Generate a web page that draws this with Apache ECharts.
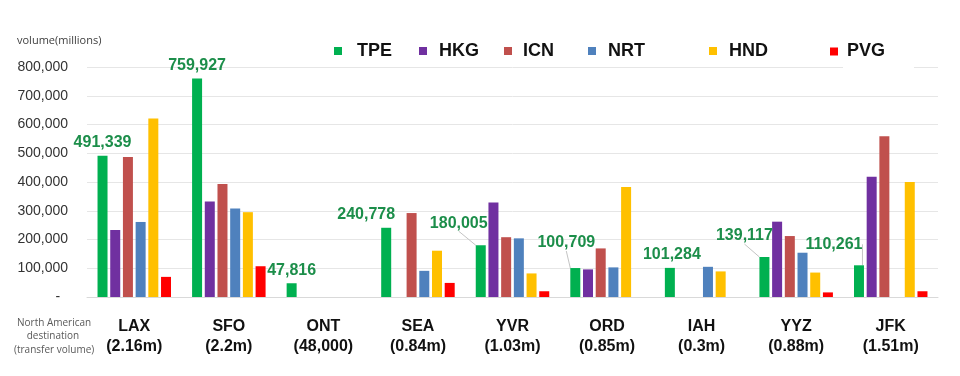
<!DOCTYPE html>
<html>
<head>
<meta charset="utf-8">
<script src="https://cdn.jsdelivr.net/npm/echarts@6/dist/echarts.min.js"></script>
<style>html,body{margin:0;padding:0;background:#fff}#c{width:960px;height:376px}</style>
</head>
<body>
<div id="c"></div>
<script>
// ---- data ----
const categories = ['LAX', 'SFO', 'ONT', 'SEA', 'YVR', 'ORD', 'IAH', 'YYZ', 'JFK'];
const transferVolumes = ['2.16m', '2.2m', '48,000', '0.84m', '1.03m', '0.85m', '0.3m', '0.88m', '1.51m'];
const seriesNames = ['TPE', 'HKG', 'ICN', 'NRT', 'HND', 'PVG'];
const TPE = [491339, 759927, 47816, 240778, 180005, 100709, 101284, 139117, 110261];
const HKG = [233000, 332000, null, null, 329000, 96000, null, 262000, 418000];
const ICN = [487000, 393000, null, 292000, 208000, 169000, null, 212000, 559000];
const NRT = [261000, 308000, null, 91000, 204000, 103000, 105000, 154000, null];
const HND = [621000, 295000, null, 161000, 82000, 383000, 89000, 85000, 400000];
const PVG = [70000, 107000, null, 49000, 20000, null, null, 16000, 20000];
const yTicks = [0, 100000, 200000, 300000, 400000, 500000, 600000, 700000, 800000];

// ---- styling / layout ----
const colors = {TPE: '#00B050', HKG: '#7030A0', ICN: '#C0504D', NRT: '#4F81BD', HND: '#FFC000', PVG: '#FF0000'};
const values = {TPE, HKG, ICN, NRT, HND, PVG};
const labelShift = [[0,0],[0,0],[0,0],[-20,0],[-22,-9],[-9,-12],[2,0],[-20,-8],[-25,-8]];
const leaderIdx = [4, 5, 7, 8];
const legendLeft = {TPE: 334, HKG: 419, ICN: 504, NRT: 588, HND: 709, PVG: 830};
const legendTextGap = {TPE: 10, HKG: 7, ICN: 6, NRT: 7, HND: 7, PVG: 4};
const FONT = '"Liberation Sans", Arial, sans-serif';
const NOTE_FONT = '10px "Open Sans", sans-serif';

const chart = echarts.init(document.getElementById('c'));

const series = seriesNames.map(function (name) {
  const s = {
    name: name,
    type: 'bar',
    barWidth: 10,
    barGap: '27%',
    itemStyle: {color: colors[name]},
    data: values[name].map(function (v, i) {
      if (name === 'TPE' && leaderIdx.indexOf(i) >= 0) {
        return {value: v, labelLine: {show: true}};
      }
      return v;
    })
  };
  if (name === 'TPE') {
    s.label = {
      show: true, position: 'top', distance: 5,
      color: '#1C8E4A', fontWeight: 'bold', fontSize: 16, fontFamily: FONT,
      formatter: function (p) { return p.value.toLocaleString('en-US'); }
    };
    s.labelLine = {show: false, lineStyle: {color: '#c4c4c4', width: 1}};
    s.labelLayout = function (p) {
      const o = labelShift[p.dataIndex];
      return {dx: o[0], dy: o[1]};
    };
  }
  return s;
});

const legends = seriesNames.map(function (name) {
  const isPVG = name === 'PVG';
  return {
    data: [name],
    left: legendLeft[name],
    top: isPVG ? 32.5 : 40,
    icon: 'rect',
    itemWidth: 8,
    itemHeight: 8,
    itemGap: 0,
    padding: 0,
    textStyle: {
      fontFamily: FONT, fontSize: 18, fontWeight: 'bold', color: '#111',
      backgroundColor: isPVG ? '#ffffff' : 'transparent',
      padding: isPVG ? [13, 29, 7, legendTextGap[name]] : [0, 0, 4, legendTextGap[name]]
    }
  };
});

chart.setOption({
  animation: false,
  backgroundColor: '#ffffff',
  legend: legends,
  grid: {left: 87, right: 22, top: 67, bottom: 79, containLabel: false},
  xAxis: {
    type: 'category',
    data: categories,
    axisLine: {show: true, lineStyle: {color: '#d9d9d9', width: 1}},
    axisTick: {show: false},
    axisLabel: {
      margin: 20,
      interval: 0,
      fontFamily: FONT, fontSize: 16, fontWeight: 'bold', color: '#111', lineHeight: 20,
      formatter: function (v, i) { return v + '\n(' + transferVolumes[i] + ')'; }
    }
  },
  yAxis: {
    type: 'value',
    min: yTicks[0],
    max: yTicks[yTicks.length - 1],
    interval: yTicks[1] - yTicks[0],
    axisLine: {show: false},
    axisTick: {show: false},
    splitLine: {lineStyle: {color: '#e6e6e6', width: 1}},
    axisLabel: {
      margin: 19,
      fontFamily: FONT, fontSize: 14, color: '#333',
      formatter: function (v) { return v === 0 ? '-  ' : v.toLocaleString('en-US'); }
    }
  },
  graphic: [
    {type: 'text', left: 17, top: 35,
      style: {text: 'volume(millions)', font: '11px "Open Sans", sans-serif', fill: '#404040'}},
    {type: 'text', x: 17, y: 323,
      style: {text: 'North American', font: NOTE_FONT, fill: '#595959', verticalAlign: 'middle'}},
    {type: 'text', x: 53, y: 336.5,
      style: {text: 'destination', font: NOTE_FONT, fill: '#595959', align: 'center', verticalAlign: 'middle'}},
    {type: 'text', x: 14, y: 350,
      style: {text: '(transfer volume)', font: NOTE_FONT, fill: '#595959', verticalAlign: 'middle', width: 83, overflow: 'truncate', ellipsis: ''}}
  ],
  series: series
});
</script>
</body>
</html>
